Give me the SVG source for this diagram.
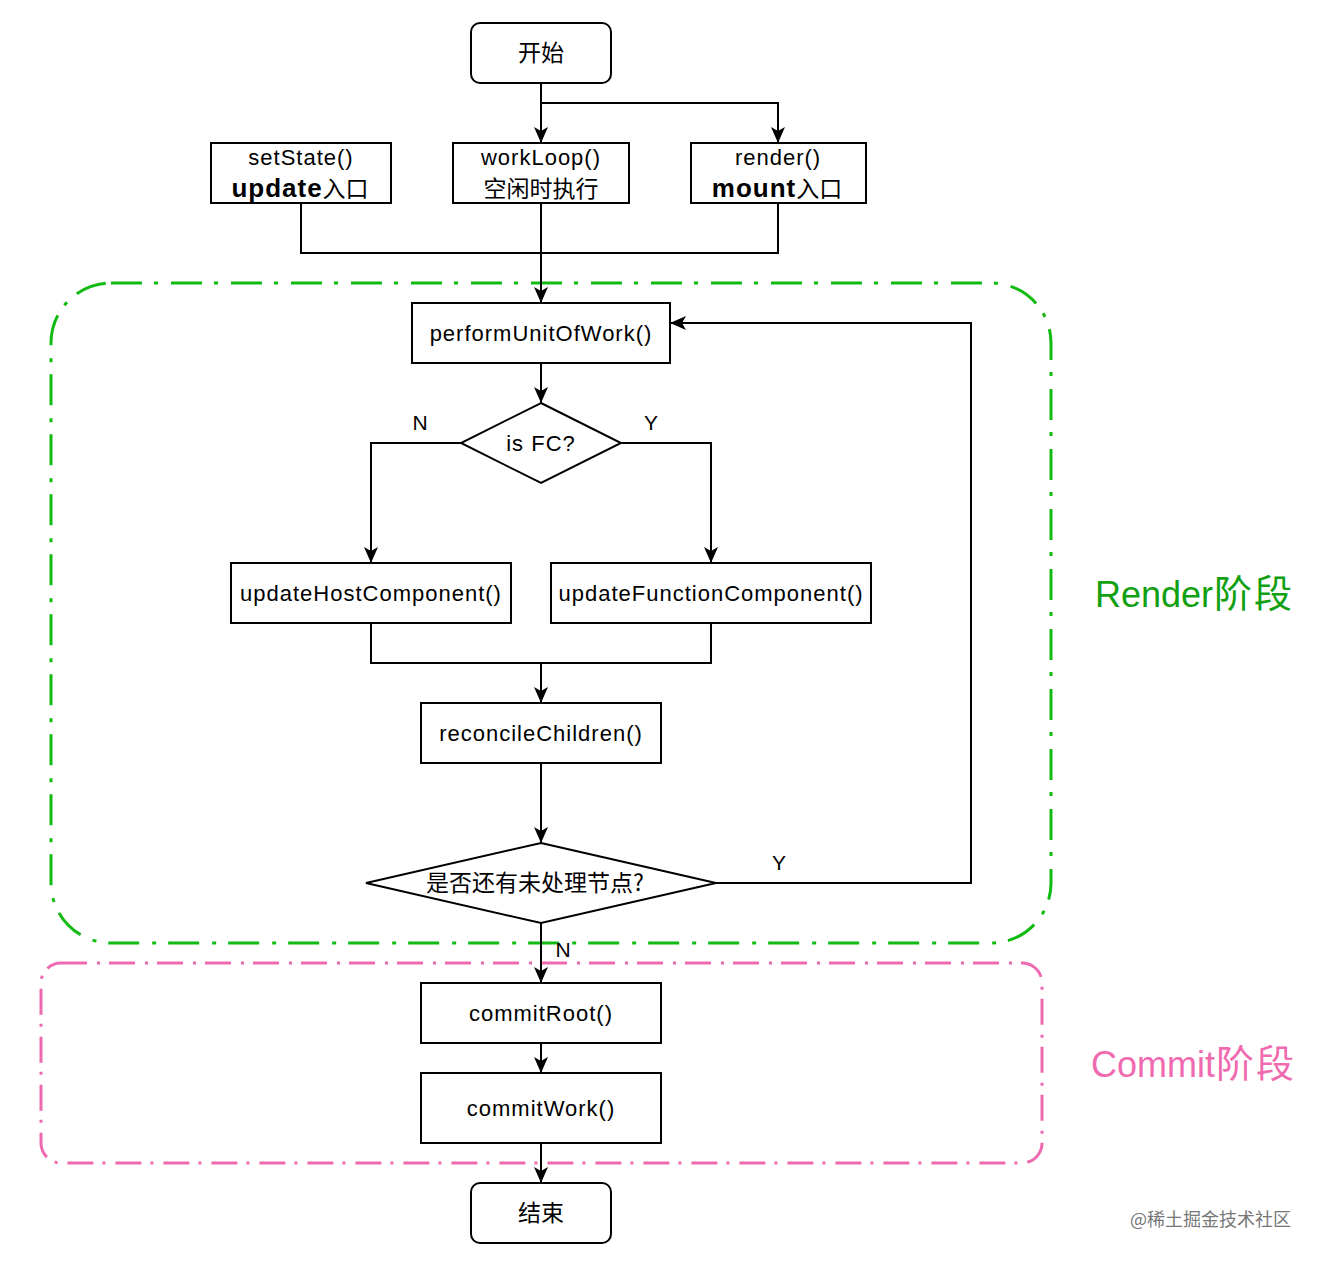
<svg xmlns="http://www.w3.org/2000/svg" width="1322" height="1262" viewBox="0 0 1322 1262">
<style>
.box{fill:#fff;stroke:#000;stroke-width:2}
.edge{fill:none;stroke:#000;stroke-width:2}
.t{font-family:"Liberation Sans","Noto Sans CJK SC",sans-serif;font-size:22px;letter-spacing:1px;fill:#000;text-anchor:middle}
.b{font-weight:bold;font-size:26px;letter-spacing:1px}
.cjk{font-family:"Noto Sans CJK SC",sans-serif;font-weight:normal;font-size:23px;letter-spacing:0}
.c{font-family:"Noto Sans CJK SC",sans-serif;font-size:23px;letter-spacing:0;fill:#000;text-anchor:middle}
.lbl{font-family:"Liberation Sans",sans-serif;font-size:21px;fill:#000;text-anchor:middle}
</style>
<defs>
<marker id="arr" viewBox="0 0 16 14" refX="16" refY="7" markerWidth="16" markerHeight="14" orient="auto" markerUnits="userSpaceOnUse">
<path d="M0,0 L16,7 L0,14 L4,7 z" fill="#000"/>
</marker>
</defs>
<rect width="1322" height="1262" fill="#fff"/>
<g id="render-phase">
<rect x="51" y="283" width="1000" height="660" rx="60" ry="60" fill="none" stroke="#11BB11" stroke-width="3" stroke-dasharray="31 12 4 13"/>
<text x="1095" y="607" font-family="Liberation Sans,Noto Sans CJK SC,sans-serif" font-size="36" fill="#11A011">Render<tspan font-family="Noto Sans CJK SC,sans-serif" font-size="38" dx="1" letter-spacing="2">阶段</tspan></text>
</g>
<g id="commit-phase">
<rect x="41" y="963" width="1001" height="200" rx="20" ry="20" fill="none" stroke="#EE6AB0" stroke-width="3" stroke-dasharray="26 10 3 9"/>
<text x="1091" y="1077" font-family="Liberation Sans,Noto Sans CJK SC,sans-serif" font-size="36" fill="#F06AB0">Commit<tspan font-family="Noto Sans CJK SC,sans-serif" font-size="38" dx="1" letter-spacing="2">阶段</tspan></text>
</g>
<g id="connectors">
<path class="edge" d="M541,83 V143" marker-end="url(#arr)"/>
<path class="edge" d="M541,103 H778 V143" marker-end="url(#arr)"/>
<path class="edge" d="M301,203 V253 H778 V203"/>
<path class="edge" d="M541,203 V303" marker-end="url(#arr)"/>
<path class="edge" d="M541,363 V403" marker-end="url(#arr)"/>
<path class="edge" d="M461,443 H371 V563" marker-end="url(#arr)"/>
<path class="edge" d="M621,443 H711 V563" marker-end="url(#arr)"/>
<path class="edge" d="M371,623 V663 H711 V623"/>
<path class="edge" d="M541,663 V703" marker-end="url(#arr)"/>
<path class="edge" d="M541,763 V843" marker-end="url(#arr)"/>
<path class="edge" d="M716,883 H971 V323 H670" marker-end="url(#arr)"/>
<path class="edge" d="M541,923 V983" marker-end="url(#arr)"/>
<path class="edge" d="M541,1043 V1073" marker-end="url(#arr)"/>
<path class="edge" d="M541,1143 V1183" marker-end="url(#arr)"/>
<text class="lbl" x="420" y="430">N</text>
<text class="lbl" x="651" y="430">Y</text>
<text class="lbl" x="779" y="870">Y</text>
<text class="lbl" x="563" y="957">N</text>
</g>
<g id="start">
<rect class="box" x="471" y="23" width="140" height="60" rx="9"/>
<text class="c" x="541" y="61">开始</text>
</g>
<g id="setState">
<rect class="box" x="211" y="143" width="180" height="60"/>
<text class="t" x="301" y="165">setState()</text>
<text class="t" x="300" y="197"><tspan class="b">update</tspan><tspan class="cjk">入口</tspan></text>
</g>
<g id="workLoop">
<rect class="box" x="453" y="143" width="176" height="60"/>
<text class="t" x="541" y="165">workLoop()</text>
<text class="c" x="541" y="197">空闲时执行</text>
</g>
<g id="render">
<rect class="box" x="691" y="143" width="175" height="60"/>
<text class="t" x="778" y="165">render()</text>
<text class="t" x="777" y="197"><tspan class="b">mount</tspan><tspan class="cjk">入口</tspan></text>
</g>
<g id="performUnitOfWork">
<rect class="box" x="412" y="303" width="258" height="60"/>
<text class="t" x="541" y="341">performUnitOfWork()</text>
</g>
<g id="isFC">
<path class="box" d="M541,403 L621,443 L541,483 L461,443 Z"/>
<text class="t" x="541" y="451">is FC?</text>
</g>
<g id="updateHostComponent">
<rect class="box" x="231" y="563" width="280" height="60"/>
<text class="t" x="371" y="601">updateHostComponent()</text>
</g>
<g id="updateFunctionComponent">
<rect class="box" x="551" y="563" width="320" height="60"/>
<text class="t" x="711" y="601">updateFunctionComponent()</text>
</g>
<g id="reconcileChildren">
<rect class="box" x="421" y="703" width="240" height="60"/>
<text class="t" x="541" y="741">reconcileChildren()</text>
</g>
<g id="hasMore">
<path class="box" d="M541,843 L716,883 L541,923 L366,883 Z"/>
<text class="c" x="535" y="891" letter-spacing="1">是否还有未处理节点?</text>
</g>
<g id="commitRoot">
<rect class="box" x="421" y="983" width="240" height="60"/>
<text class="t" x="541" y="1021">commitRoot()</text>
</g>
<g id="commitWork">
<rect class="box" x="421" y="1073" width="240" height="70"/>
<text class="t" x="541" y="1116">commitWork()</text>
</g>
<g id="end">
<rect class="box" x="471" y="1183" width="140" height="60" rx="9"/>
<text class="c" x="541" y="1221">结束</text>
</g>
<text x="1130" y="1226" font-family="Noto Sans CJK SC,sans-serif" font-size="18" fill="#777">@稀土掘金技术社区</text>
</svg>
